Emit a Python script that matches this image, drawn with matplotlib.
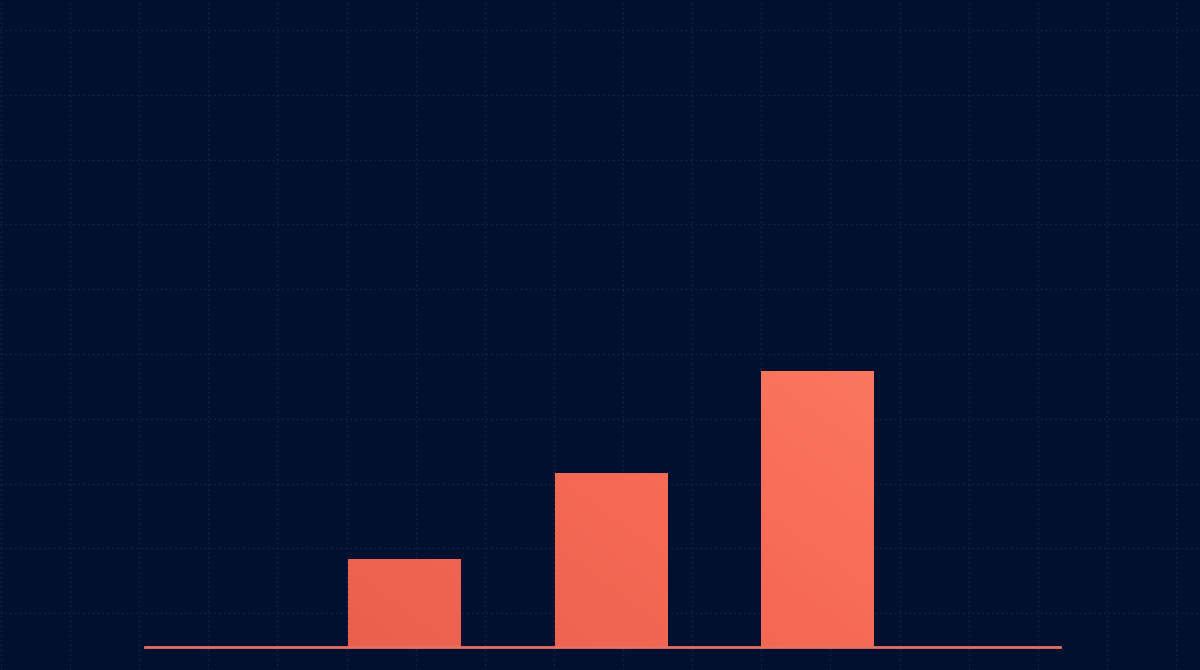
import numpy as np
import matplotlib
matplotlib.use("Agg")
import matplotlib.pyplot as plt
from matplotlib.colors import LinearSegmentedColormap

# data (no labels are shown in the original)
categories = ["A", "B", "C"]
values = [32, 63, 100]

bg = "#02102F"
grid_col = "#18284A"

fig = plt.figure(figsize=(12, 6.7), dpi=100, facecolor=bg)

# background grid over the whole figure
bg_ax = fig.add_axes([0, 0, 1, 1], zorder=0)
bg_ax.set_facecolor(bg)
bg_ax.set_xlim(0, 1200)
bg_ax.set_ylim(670, 0)
for gx in np.arange(0.9, 1200, 69.13):
    bg_ax.axvline(gx, color=grid_col, lw=1.0, ls=(0, (1, 2.5)))
for gy in np.arange(30, 670, 64.8):
    bg_ax.axhline(gy, color=grid_col, lw=1.0, ls=(0, (1, 2.5)))
bg_ax.axis("off")

# main chart
ax = fig.add_axes([145 / 1200, 23 / 670, 915 / 1200, 600 / 670], zorder=1)
ax.patch.set_alpha(0)
x = np.arange(len(categories))
bars = ax.bar(x, values, width=0.542, color="#F56A55", zorder=2)
xlim = (-1.253, 3.174)
ylim = (0, 600 / 2.76)

# soft coral gradient, darker bottom-left, lighter top-right
cmap = LinearSegmentedColormap.from_list("coral", ["#E35C4A", "#F66A55", "#FF8068"])
xx, yy = np.meshgrid(np.linspace(0, 1, 200), np.linspace(0, 1, 200))
grad = 0.65 * xx + 0.35 * yy
for b in bars:
    im = ax.imshow(grad, cmap=cmap, vmin=0, vmax=1, origin="lower", aspect="auto",
                   extent=[xlim[0], xlim[1], 0, ylim[1] * 0.6], zorder=3)
    im.set_clip_path(b)
ax.set_xlim(*xlim)
ax.set_ylim(*ylim)

ax.axhline(0, color="#E8705F", lw=2, zorder=4, clip_on=False)
for s in ax.spines.values():
    s.set_visible(False)
ax.set_xticks([])
ax.set_yticks([])

fig.savefig("out.png", dpi=100, facecolor=bg)
